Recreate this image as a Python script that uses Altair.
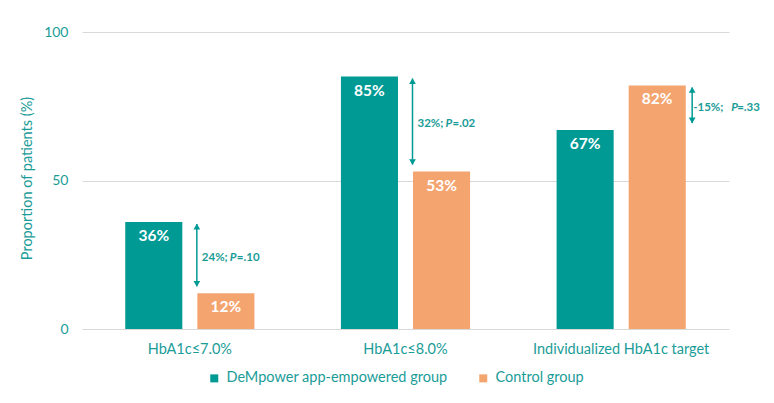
import altair as alt
import pandas as pd

categories = ["HbA1c≤7.0%", "HbA1c≤8.0%", "Individualized HbA1c target"]
groups = ["DeMpower app-empowered group", "Control group"]
app_values = [36, 85, 67]
control_values = [12, 53, 82]
diff_labels = ["24%;", "32%;", "-15%;"]
p_letter = ["P", "P", "P"]
p_values = ["=.10", "=.02", "=.33"]

TEAL = "#009A95"
ORANGE = "#F4A46F"
TEXT = "#1A9C98"
GRID = "#D9D9D9"
FONT = "Lato"

bars_df = pd.DataFrame({
    "category": categories * 2,
    "group": [groups[0]] * 3 + [groups[1]] * 3,
    "value": app_values + control_values,
})
bars_df["label"] = bars_df["value"].astype(str) + "%"

ann_df = pd.DataFrame({
    "category": categories,
    "app": app_values,
    "control": control_values,
    "diff": diff_labels,
    "pl": p_letter,
    "pv": p_values,
})

x_axis = alt.Axis(title=None, labelAngle=0, ticks=False, domain=False, grid=False,
                  labelPadding=13, labelFontSize=14.5, labelColor=TEXT, labelFont=FONT)
x_scale = alt.Scale(paddingInner=0, paddingOuter=0)
xo_enc = alt.XOffset("group:N", sort=groups,
                     scale=alt.Scale(paddingInner=0.2083, paddingOuter=0.6))
y_scale = alt.Scale(domain=[0, 100])
y_axis = alt.Axis(values=[0, 50, 100], title="Proportion of patients (%)",
                  domain=False, ticks=False, grid=True, gridColor=GRID, gridWidth=1,
                  labelPadding=14, labelFontSize=14, labelColor=TEXT, labelFont=FONT,
                  titleColor=TEXT, titleFont=FONT, titleFontSize=14.5, titleFontWeight="normal",
                  titleX=-55, titleY=146, titleAlign="center", titleBaseline="middle")


def X():
    return alt.X("category:N", sort=categories, scale=x_scale, axis=x_axis)


def Y(field):
    return alt.Y(f"{field}:Q", scale=y_scale, axis=y_axis)


bars = alt.Chart(bars_df).mark_bar().encode(
    x=X(), xOffset=xo_enc, y=Y("value"),
    color=alt.Color("group:N", sort=groups,
                    scale=alt.Scale(domain=groups, range=[TEAL, ORANGE]),
                    legend=alt.Legend(title=None, orient="none", legendX=125, legendY=339,
                                      direction="horizontal", symbolType="square",
                                      symbolSize=64, symbolStrokeWidth=0, labelFontSize=14.5,
                                      labelColor=TEXT, labelFont=FONT, columnPadding=28,
                                      labelOffset=5, padding=0, labelLimit=0)),
)

bar_labels = alt.Chart(bars_df).mark_text(
    baseline="middle", dy=14, color="white", fontWeight="bold", fontSize=15.5, font=FONT
).encode(x=X(), xOffset=xo_enc, y=Y("value"), text="label:N")

ann = alt.Chart(ann_df).transform_calculate(
    high="max(datum.app, datum.control)",
    low="min(datum.app, datum.control)",
    mid="(datum.app + datum.control) / 2",
)


def annotation(side_filter, arrow_x, text_dx, p_dx, v_dx):
    base = ann.transform_filter(side_filter)
    rule = base.mark_rule(color=TEAL, strokeWidth=1.5, xOffset=arrow_x,
                          yOffset=2, y2Offset=-7).encode(
        x=X(), y=Y("high"), y2="low:Q")
    up = base.mark_point(shape="triangle-up", filled=True, color=TEAL, size=45, opacity=1,
                         xOffset=arrow_x, yOffset=4.5).encode(x=X(), y=Y("high"))
    down = base.mark_point(shape="triangle-down", filled=True, color=TEAL, size=45, opacity=1,
                           xOffset=arrow_x, yOffset=-9.5).encode(x=X(), y=Y("low"))
    style = dict(align="left", baseline="middle", color=TEXT, fontWeight="bold",
                 fontSize=11.5, font=FONT)
    t1 = base.mark_text(dx=text_dx, **style).encode(x=X(), y=Y("mid"), text="diff:N")
    t2 = base.mark_text(dx=p_dx, fontStyle="italic", **style).encode(
        x=X(), y=Y("mid"), text="pl:N")
    t3 = base.mark_text(dx=v_dx, **style).encode(x=X(), y=Y("mid"), text="pv:N")
    return [rule, up, down, t1, t2, t3]


left_layers = annotation("datum.control <= datum.app", 7, 12, 40, 47)
right_layers = annotation("datum.control > datum.app", 71, 72, 110, 116)

chart = alt.layer(bars, bar_labels, *left_layers, *right_layers).properties(
    width=647, height=297,
    padding={"left": 74, "top": 24, "right": 37, "bottom": 66},
    autosize=alt.AutoSizeParams(type="none"),
).configure_view(stroke=None)

chart.save("out.html", embed_options={"renderer": "svg", "actions": False})
